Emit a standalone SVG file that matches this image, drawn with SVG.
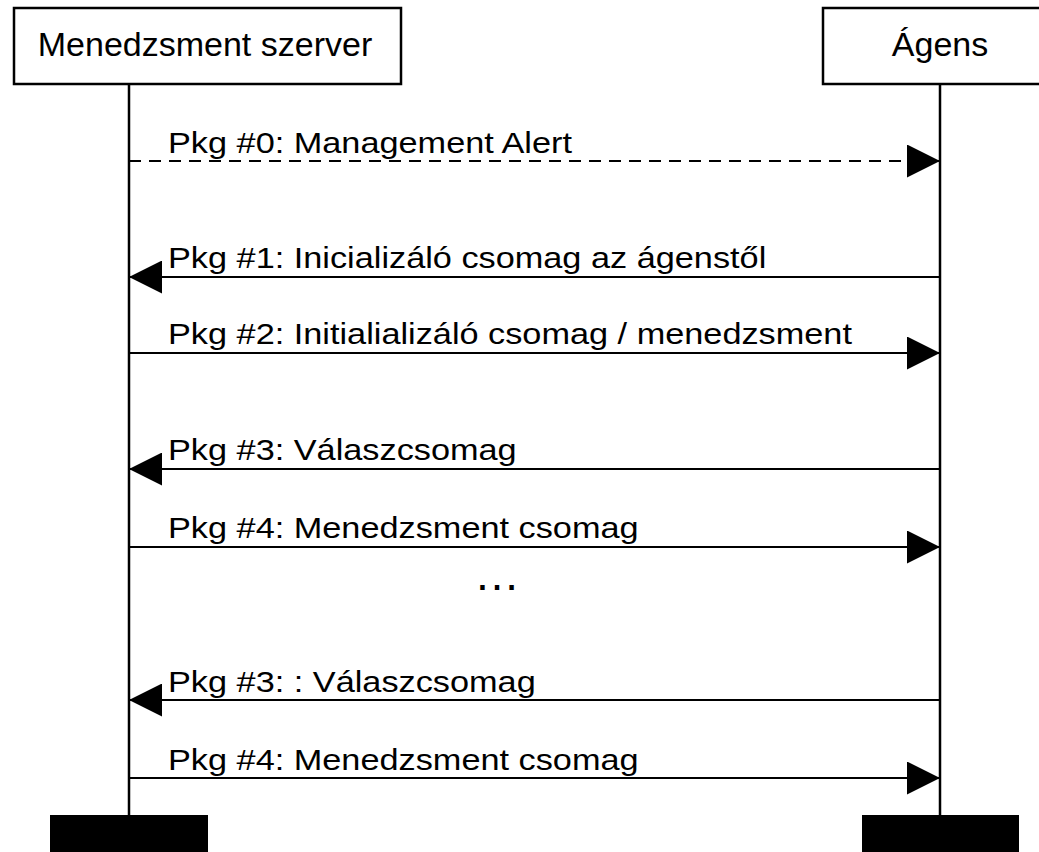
<svg xmlns="http://www.w3.org/2000/svg" width="1039" height="852" viewBox="0 0 1039 852">
<defs>
<style>
.box{fill:#fff;stroke:#000;stroke-width:2.5}
.life{stroke:#000;stroke-width:2.5;fill:none}
.msg{stroke:#000;stroke-width:2;fill:none}
.dash{stroke-dasharray:12 8}
.t{font-family:"Liberation Sans",Arial,sans-serif;font-size:30px;fill:#000}
.h{font-family:"Liberation Sans",Arial,sans-serif;font-size:34px;fill:#000;text-anchor:middle}
.end{fill:#000}
</style>
<marker id="ah" viewBox="0 0 33 33" refX="33" refY="16.5" markerWidth="33" markerHeight="33" markerUnits="userSpaceOnUse" orient="auto">
<path d="M0,0 L33,16.5 L0,33 Z" fill="#000"/>
</marker>
</defs>
<rect width="1039" height="852" fill="#fff"/>
<g id="server">
<rect class="box" x="14" y="8" width="387" height="76"/>
<text class="h" x="205" y="56">Menedzsment szerver</text>
<line class="life" x1="129" y1="84" x2="129" y2="815"/>
<rect class="end" x="50" y="815" width="158" height="37"/>
</g>
<g id="agent">
<rect class="box" x="823" y="8" width="240" height="76"/>
<text class="h" x="940" y="56">Ágens</text>
<line class="life" x1="940" y1="84" x2="940" y2="815"/>
<rect class="end" x="862" y="815" width="157" height="37"/>
</g>
<g id="connectors">
<line class="msg dash" x1="129" y1="161" x2="940" y2="161" marker-end="url(#ah)"/>
<text class="t" transform="translate(168,153) scale(1.143,1)">Pkg #0: Management Alert</text>
<line class="msg" x1="940" y1="277" x2="129" y2="277" marker-end="url(#ah)"/>
<text class="t" transform="translate(168,268) scale(1.143,1)">Pkg #1: Inicializáló csomag az ágenstől</text>
<line class="msg" x1="129" y1="353" x2="940" y2="353" marker-end="url(#ah)"/>
<text class="t" transform="translate(168,344) scale(1.143,1)">Pkg #2: Initialializáló csomag / menedzsment</text>
<line class="msg" x1="940" y1="469" x2="129" y2="469" marker-end="url(#ah)"/>
<text class="t" transform="translate(168,460) scale(1.143,1)">Pkg #3: Válaszcsomag</text>
<line class="msg" x1="129" y1="547" x2="940" y2="547" marker-end="url(#ah)"/>
<text class="t" transform="translate(168,538) scale(1.143,1)">Pkg #4: Menedzsment csomag</text>
<text class="t" x="497" y="590" style="font-size:46px;text-anchor:middle">…</text>
<line class="msg" x1="940" y1="700" x2="129" y2="700" marker-end="url(#ah)"/>
<text class="t" transform="translate(168,692) scale(1.143,1)">Pkg #3: : Válaszcsomag</text>
<line class="msg" x1="129" y1="778" x2="940" y2="778" marker-end="url(#ah)"/>
<text class="t" transform="translate(168,770) scale(1.143,1)">Pkg #4: Menedzsment csomag</text>
</g>
</svg>
